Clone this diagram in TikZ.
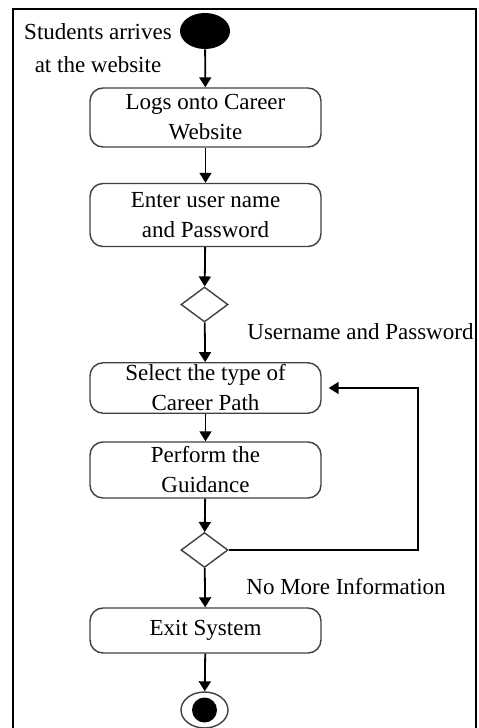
\documentclass[tikz,border=0pt]{standalone}
\usepackage{fontspec}
\setmainfont{Liberation Serif}
\usetikzlibrary{arrows.meta,shapes.geometric}

\tikzset{
  activity/.style={draw=black!75, line width=0.7pt, rounded corners=6.5pt,
    minimum width=115.5pt, align=center, inner sep=1pt},
  decision/.style={draw=black!75, line width=0.7pt, diamond,
    minimum width=23.5pt, minimum height=17.5pt, inner sep=0pt},
  flow/.style={line width=0.9pt, -{Triangle[length=5pt,width=6pt]}},
  guard/.style={anchor=west, inner sep=0pt}
}

\begin{document}
\begin{tikzpicture}[x=0.5pt, y=-0.5pt, font=\fontsize{11.5}{15}\selectfont]

      \useasboundingbox (0,0) rectangle (478,728) ;
      \draw [line width=1pt] (13,728) |- (476,9) -- (476,728) ;

      \node [ellipse, fill=black, minimum width=25pt, minimum height=18pt, inner sep=0pt] (start) at (205,31) {} ;
      \node [align=center, font=\fontsize{11.5}{16.5}\selectfont] (arrive) at (98,48) {Students arrives\\at the website} ;

      \node [activity, minimum height=29.5pt] (logon) at (205.5,117.5) {Logs onto Career\\Website} ;
      \node [activity, minimum height=31.5pt] (login) at (205.5,215) {Enter user name\\and Password} ;
      \node [decision] (check) at (204.5,304.5) {} ;
      \node [activity, minimum height=25pt] (select) at (205.5,388) {Select the type of\\Career Path} ;
      \node [activity, minimum height=28pt] (guide) at (205.5,470) {Perform the\\Guidance} ;
      \node [decision] (more) at (204.5,550) {} ;
      \node [activity, minimum height=22.5pt] (exit) at (205.5,630.5) {Exit System} ;

      \node [ellipse, draw=black!75, line width=0.7pt, minimum width=23.5pt, minimum height=18pt, inner sep=0pt] (finish) at (204.5,710) {} ;
      \node [circle, fill=black, minimum size=12.5pt, inner sep=0pt] (dot) at (finish.center) {} ;

      \node [guard] (valid) at (247,332) {Username and Password} ;
      \node [guard] (nomore) at (246,587) {No More Information} ;

      \coordinate (back) at (418,550) ;

      \draw [flow] (start) -- (logon) ;
      \draw [flow] (logon) -- (login) ;
      \draw [flow] (login) -- (check) ;
      \draw [flow] (check) -- (select) ;
      \draw [flow] (select) -- (guide) ;
      \draw [flow] (guide) -- (more) ;
      \draw [flow] (more) -- (exit) ;
      \draw [flow] (exit) -- (finish) ;
      \draw [flow, shorten >=3.5pt] (more.east) -- (back) |- (select.east) ;

    \end{tikzpicture}
\end{document}
